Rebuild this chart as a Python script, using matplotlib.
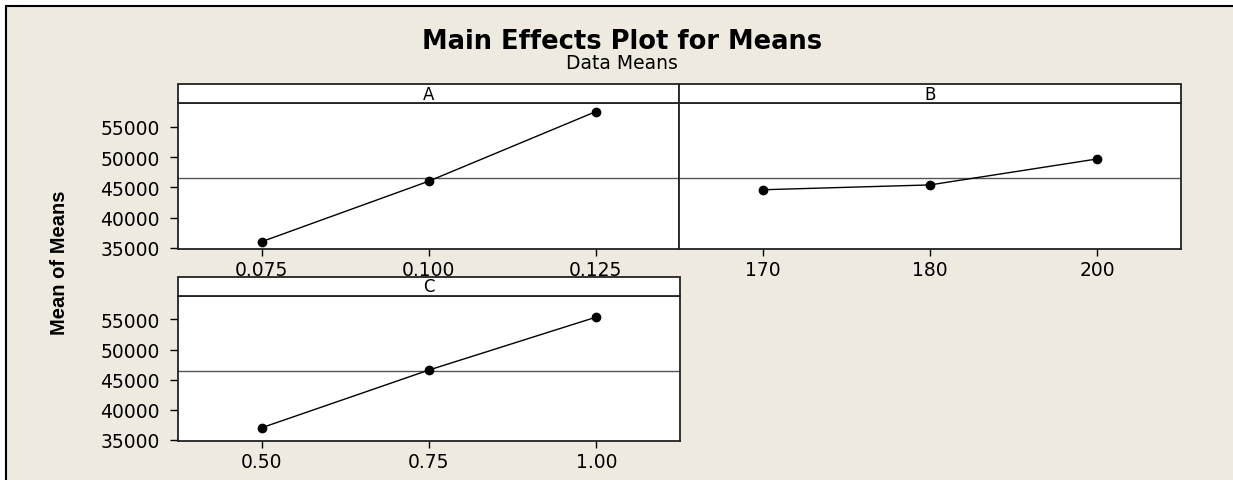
import numpy as np
import matplotlib
matplotlib.use('Agg')
import matplotlib.pyplot as plt
from matplotlib.patches import Rectangle

# factor levels and mean responses
a_levels = ['0.075', '0.100', '0.125']
a_means = [36000, 46000, 57500]
b_levels = ['170', '180', '200']
b_means = [44600, 45400, 49700]
c_levels = ['0.50', '0.75', '1.00']
c_means = [37000, 46600, 55400]
panel_names = ['A', 'B', 'C']
y_ticks = [35000, 40000, 45000, 50000, 55000]

grand_mean = np.mean(a_means + b_means + c_means)

bg = '#eeeae0'
fig = plt.figure(figsize=(12.33, 4.81), dpi=100, facecolor='white')

# beige frame
fig.patches.append(Rectangle((6 / 1233, -0.1), 1.1, 1.1 - 7 / 481,
                             transform=fig.transFigure, facecolor=bg,
                             edgecolor='black', linewidth=1.5, zorder=-10))

axA = fig.add_axes([178 / 1233, (481 - 250) / 481, 501 / 1233, 145.7 / 481])
axB = fig.add_axes([679 / 1233, (481 - 250) / 481, 502 / 1233, 145.7 / 481])
axC = fig.add_axes([178 / 1233, (481 - 442) / 481, 502 / 1233, 145 / 481])

panels = [(axA, a_levels, a_means), (axB, b_levels, b_means), (axC, c_levels, c_means)]
strip_h = 0.1325

for (ax, levels, means), name in zip(panels, panel_names):
    x = np.arange(len(levels))
    ax.set_facecolor('white')
    ax.axhline(grand_mean, color='#555555', linewidth=1.0, zorder=1)
    ax.plot(x, means, color='black', linewidth=1.0, marker='o',
            markersize=6, zorder=3)
    ax.set_xlim(-0.5, 2.5)
    ax.set_ylim(34800, 58900)
    ax.set_xticks(x)
    ax.set_xticklabels(levels, fontsize=13.5)
    ax.tick_params(axis='x', direction='out', length=5, width=1, pad=3)
    if ax is axB:
        ax.set_yticks([])
    else:
        ax.set_yticks(y_ticks)
        ax.set_yticklabels([str(v) for v in y_ticks], fontsize=13.5)
        ax.tick_params(axis='y', direction='out', length=6, width=1, pad=7)
    for s in ax.spines.values():
        s.set_linewidth(1.3)
        s.set_color('#222222')
    # panel strip
    ax.add_patch(Rectangle((0, 1), 1, strip_h, transform=ax.transAxes,
                           facecolor='white', edgecolor='#222222',
                           linewidth=1.3, clip_on=False, zorder=5))
    ax.text(0.5, 1 + strip_h / 2, name, transform=ax.transAxes,
            ha='center', va='center', fontsize=12, zorder=6)

fig.text(0.5045, 0.9127, 'Main Effects Plot for Means', ha='center',
         va='center', fontsize=18.5, fontweight='bold')
fig.text(0.5045, 0.869, 'Data Means', ha='center', va='center', fontsize=13.5)
fig.text(0.048, 0.453, 'Mean of Means', rotation=90, ha='center',
         va='center', fontsize=14.5, fontweight='bold', fontstretch='condensed',
         family=['Liberation Sans Narrow', 'Liberation Sans', 'DejaVu Sans'])

fig.savefig('out.png', dpi=100, facecolor='white')
